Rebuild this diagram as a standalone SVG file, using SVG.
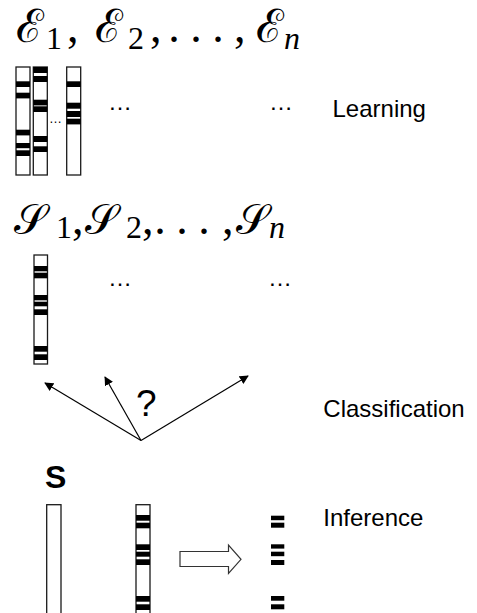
<svg xmlns="http://www.w3.org/2000/svg" width="477" height="613" viewBox="0 0 477 613">
  <style>
    .math { font-family: "Liberation Serif", "DejaVu Serif", serif; fill: #000; }
    .big { font-size: 46px; }
    .cal { font-size: 42px; }
    .sub { font-size: 32px; }
    .subi { font-size: 32px; font-style: italic; }
    .label { font-family: "Liberation Sans", Arial, sans-serif; font-size: 24px; fill: #000; }
    .bar { fill: #fff; stroke: #1a1a1a; stroke-width: 1.3; }
    .band { fill: #000; }
    .edge { stroke: #000; stroke-width: 1.2; fill: none; }
  </style>
  <defs>
    <marker id="head" viewBox="0 0 10 10" refX="9" refY="5" markerWidth="9" markerHeight="9" markerUnits="userSpaceOnUse" orient="auto">
      <path d="M0,0 L10,5 L0,10 z" fill="#000"/>
    </marker>
  </defs>
  <rect width="477" height="613" fill="#fff"/>

  <!-- Example sets E1..En -->
  <g id="examples-title" class="math">
    <text class="big" x="16" y="42">ℰ</text>
    <text class="sub" x="46" y="49">1</text>
    <text class="big" x="67" y="42">,</text>
    <text class="big" x="95" y="42">ℰ</text>
    <text class="sub" x="128" y="49">2</text>
    <text class="big" x="150" y="42">,</text>
    <text class="big" x="174" y="42" text-anchor="middle">.</text>
    <text class="big" x="196" y="42" text-anchor="middle">.</text>
    <text class="big" x="218" y="42" text-anchor="middle">.</text>
    <text class="big" x="234" y="42">,</text>
    <text class="big" x="256" y="42">ℰ</text>
    <text class="subi" x="284" y="49">n</text>
  </g>

  <!-- Learning: example sequences -->
  <g id="examples">
    <rect class="bar" x="16" y="67" width="14" height="108"/>
    <rect class="band" x="16" y="81.3" width="14" height="5.7"/>
    <rect class="band" x="16" y="92.7" width="14" height="5.7"/>
    <rect class="band" x="16" y="129.7" width="14" height="5.7"/>
    <rect class="band" x="16" y="143" width="14" height="5.2"/>
    <rect class="band" x="16" y="150.3" width="14" height="5.7"/>

    <rect class="bar" x="33.3" y="67" width="14" height="108"/>
    <rect class="band" x="33.3" y="67" width="14" height="6"/>
    <rect class="band" x="33.3" y="76" width="14" height="6"/>
    <rect class="band" x="33.3" y="99.7" width="14" height="5.7"/>
    <rect class="band" x="33.3" y="106.3" width="14" height="5.7"/>
    <rect class="band" x="33.3" y="136" width="14" height="6"/>
    <rect class="band" x="33.3" y="146.3" width="14" height="5.7"/>

    <text x="55.5" y="123" font-family="Liberation Sans, sans-serif" font-size="13" text-anchor="middle">…</text>

    <rect class="bar" x="66.7" y="67" width="14" height="108"/>
    <rect class="band" x="66.7" y="81.3" width="14" height="5.7"/>
    <rect class="band" x="66.7" y="102.7" width="14" height="6"/>
    <rect class="band" x="66.7" y="111" width="14" height="6"/>
    <rect class="band" x="66.7" y="118.7" width="14" height="5.7"/>

    <text class="label" x="120" y="110" text-anchor="middle">…</text>
    <text class="label" x="281" y="110" text-anchor="middle">…</text>
  </g>
  <text id="learning" class="label" x="332.5" y="117">Learning</text>

  <!-- Signature sets S1..Sn -->
  <g id="signatures-title" class="math">
    <text class="cal" x="14" y="234">𝒮</text>
    <text class="sub" x="56" y="238">1</text>
    <text class="big" x="72" y="234">,</text>
    <text class="cal" x="85" y="234">𝒮</text>
    <text class="sub" x="126" y="238">2</text>
    <text class="big" x="142" y="234">,</text>
    <text class="big" x="160" y="234" text-anchor="middle">.</text>
    <text class="big" x="182" y="234" text-anchor="middle">.</text>
    <text class="big" x="204" y="234" text-anchor="middle">.</text>
    <text class="big" x="222" y="234">,</text>
    <text class="cal" x="236" y="234">𝒮</text>
    <text class="subi" x="269" y="238">n</text>
  </g>

  <g id="signatures">
    <rect class="bar" x="34" y="255" width="13.5" height="109"/>
    <rect class="band" x="34" y="266" width="13.5" height="5.3"/>
    <rect class="band" x="34" y="272.7" width="13.5" height="5.6"/>
    <rect class="band" x="34" y="295" width="13.5" height="5.3"/>
    <rect class="band" x="34" y="301.7" width="13.5" height="4.6"/>
    <rect class="band" x="34" y="309.3" width="13.5" height="5.7"/>
    <rect class="band" x="34" y="346" width="13.5" height="5.7"/>
    <rect class="band" x="34" y="354.3" width="13.5" height="5.7"/>
    <text class="label" x="120" y="286" text-anchor="middle">…</text>
    <text class="label" x="280" y="286" text-anchor="middle">…</text>
  </g>

  <!-- Classification -->
  <g id="connectors">
    <line class="edge" x1="141" y1="440.5" x2="45" y2="383" marker-end="url(#head)"/>
    <line class="edge" x1="141" y1="440.5" x2="105" y2="377" marker-end="url(#head)"/>
    <line class="edge" x1="141" y1="440.5" x2="248" y2="376" marker-end="url(#head)"/>
  </g>
  <text id="question" class="label" x="136" y="416" style="font-size:37px">?</text>
  <text id="classification" class="label" x="323.3" y="417">Classification</text>

  <!-- Inference -->
  <text id="s-label" x="45" y="488" font-family="Liberation Sans, Arial, sans-serif" font-size="32" font-weight="bold">S</text>

  <g id="sequence">
    <rect class="bar" x="46.7" y="504.7" width="14.3" height="110"/>
  </g>

  <g id="annotated">
    <rect class="bar" x="136" y="504.7" width="14" height="110"/>
    <rect class="band" x="136" y="515" width="14" height="5.7"/>
    <rect class="band" x="136" y="522.7" width="14" height="5.6"/>
    <rect class="band" x="136" y="544.3" width="14" height="5.7"/>
    <rect class="band" x="136" y="551.7" width="14" height="5"/>
    <rect class="band" x="136" y="559.3" width="14" height="5.7"/>
    <rect class="band" x="136" y="596" width="14" height="5.7"/>
    <rect class="band" x="136" y="604.3" width="14" height="5.7"/>
  </g>

  <g id="transform-arrow">
    <polygon points="180,551.5 228.5,551.5 228.5,545 241,559.3 228.5,573.5 228.5,566.5 180,566.5" fill="#fff" stroke="#333" stroke-width="1.2"/>
  </g>

  <g id="result">
    <rect class="band" x="271" y="515.7" width="13.3" height="4.5"/>
    <rect class="band" x="271" y="522.7" width="13.3" height="5"/>
    <rect class="band" x="271" y="544.3" width="13.3" height="4.3"/>
    <rect class="band" x="271" y="551.7" width="13.3" height="4.5"/>
    <rect class="band" x="271" y="560" width="13.3" height="5"/>
    <rect class="band" x="271" y="596" width="13.3" height="4.7"/>
    <rect class="band" x="271" y="604.3" width="13.3" height="5"/>
  </g>
  <text id="inference" class="label" x="323.3" y="526">Inference</text>
</svg>
